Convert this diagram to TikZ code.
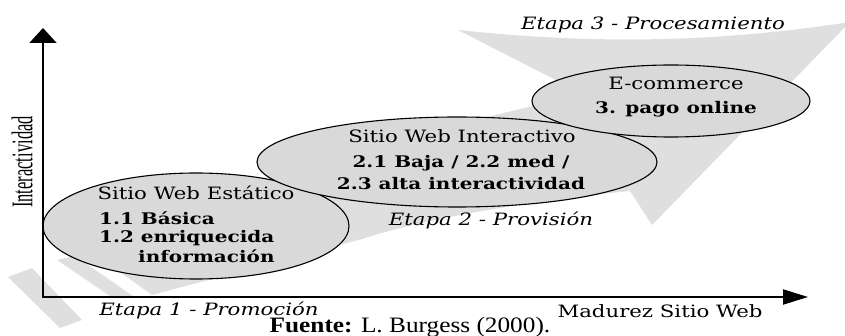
\documentclass[tikz,border=0pt]{standalone}
\usepackage{fontspec}
\setmainfont{DejaVu Serif}[FakeStretch=1.25]
\newfontfamily\srcfont{Liberation Serif}[FakeStretch=1.15]
\newfontfamily\axisfont{Liberation Serif}[FakeStretch=0.55]
\usetikzlibrary{arrows.meta,shapes.geometric}
\tikzset{
  txt/.style={font=\fontsize{17}{20}\selectfont, inner sep=0pt},
  txtb/.style={font=\fontsize{16}{19}\selectfont\bfseries, inner sep=0pt},
  etapa/.style={font=\fontsize{17}{20}\selectfont\itshape, inner sep=0pt},
  bubble/.style={ellipse, draw=black, line width=1.1pt, fill=gray!30, inner sep=0pt},
  ribbon/.style={fill=gray!25, draw=none},
}

\begin{document}
\begin{tikzpicture}[x=1pt,y=-1pt]
		%%%%% START %%%%%
		\useasboundingbox (0,0) rectangle (845,336);
		
		% stripes at the tail of the big arrow
		\fill[ribbon] (8,277) -- (32,268) -- (82,320) -- (60,328) -- cycle;
		\fill[ribbon] (57,260) -- (75,256) -- (133,296) -- (110,296) -- cycle;
		
		% big arrow
		\fill[ribbon] (92,252) -- (152,295) -- (362,239) .. controls (420,220) and (520,202) .. (630,191)
		  -- (652,225) -- (850,22) .. controls (720,42) and (600,45) .. (458,30)
		  -- (583,94) -- (487,117) -- cycle;
		
		\node[bubble, minimum width=306pt, minimum height=106pt] (estatico) at (196,226) {};
		\node[bubble, minimum width=400pt, minimum height=90pt] (interactivo) at (457,162) {};
		\node[bubble, minimum width=278pt, minimum height=72pt] (ecommerce) at (671,101) {};
		
		% axes
		\coordinate (origen) at (43,297);
		\coordinate (ytop) at (43,28);
		\coordinate (xend) at (808,297);
		\draw[line width=2pt, {Triangle[length=15pt,width=27pt]}-{Triangle[length=25pt,width=15pt]}] (ytop) -- (origen) -- (xend);
		
		\node[txt, anchor=base] (t1) at (196,200) {Sitio Web Estático};
		\node[txtb, anchor=base west] (t1a) at (99,225) {1.1 Básica};
		\node[txtb, anchor=base west] (t1b) at (99,243) {1.2 enriquecida};
		\node[txtb, anchor=base west] (t1c) at (138,263) {información};
		
		\node[txt, anchor=base] (t2) at (462,143) {Sitio Web Interactivo};
		\node[txtb, anchor=base] (t2a) at (461,168) {2.1 Baja / 2.2 med /};
		\node[txtb, anchor=base] (t2b) at (461,190) {2.3 alta interactividad};
		
		\node[txt, anchor=base] (t3) at (676,90) {E-commerce};
		\node[txtb, anchor=base] (t3a) at (676,114) {3. pago online};
		
		\node[etapa, anchor=base] (e3) at (653,30) {Etapa 3 - Procesamiento};
		\node[etapa, anchor=base] (e2) at (491,226) {Etapa 2 - Provisión};
		\node[etapa, anchor=base] (e1) at (209,316) {Etapa 1 - Promoción};
		\node[txt, anchor=base] (madurez) at (660,317) {Madurez Sitio Web};
		
		\node[font=\srcfont\fontsize{22}{24}\selectfont, anchor=base, inner sep=0pt] (fuente) at (410,332) {\textbf{Fuente:} L. Burgess (2000).};
		\node[font=\axisfont\fontsize{30}{32}\selectfont, rotate=90, inner sep=0pt] (eje) at (22,162) {Interactividad};
		
		%%%%% END %%%%%
\end{tikzpicture}
\end{document}
